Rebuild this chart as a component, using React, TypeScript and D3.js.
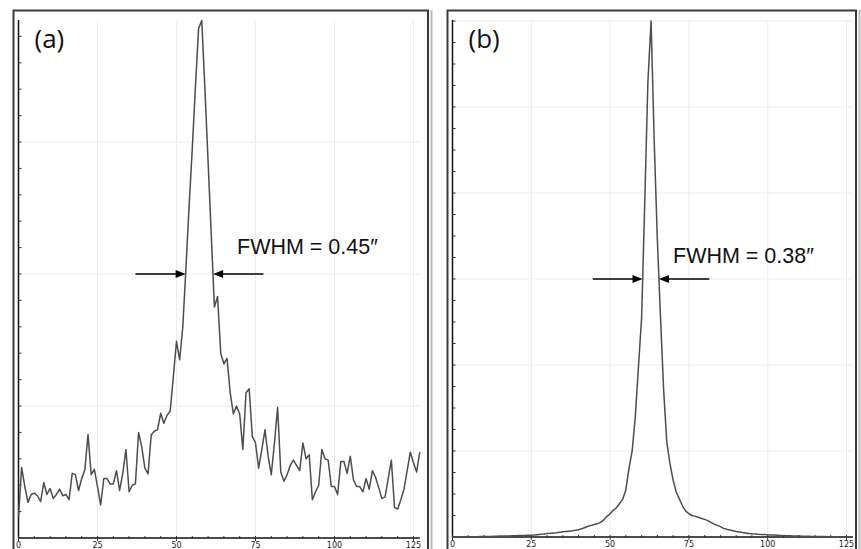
import React from "react";
import * as d3 from "d3";

// pixel index along the slit (0..127)
const pixelIndex = d3.range(0, 128);

// (a) seeing-limited profile
const profileA = [
  0.16, 0.535, 0.39, 0.27, 0.33, 0.34, 0.32, 0.275, 0.42, 0.33,
  0.375, 0.3, 0.33, 0.37, 0.32, 0.33, 0.29, 0.49, 0.48, 0.36,
  0.45, 0.515, 0.785, 0.48, 0.52, 0.39, 0.25, 0.45, 0.45, 0.41,
  0.41, 0.51, 0.36, 0.49, 0.67, 0.35, 0.4, 0.41, 0.8, 0.69,
  0.53, 0.485, 0.78, 0.81, 0.82, 0.945, 0.87, 0.93, 0.96, 1.22,
  1.49, 1.35, 1.6, 2.05, 2.52, 2.95, 3.42, 3.86, 3.92, 3.4,
  2.85, 2.3, 1.75, 1.83, 1.4, 1.32, 1.36, 1.1, 0.94, 1.0,
  0.94, 0.67, 1.1, 1.13, 0.77, 0.72, 0.53, 0.67, 0.82, 0.62,
  0.48, 0.72, 0.99, 0.5, 0.43, 0.48, 0.55, 0.59, 0.55, 0.51,
  0.72, 0.6, 0.63, 0.29, 0.35, 0.4, 0.67, 0.6, 0.59, 0.39,
  0.39, 0.33, 0.58, 0.58, 0.49, 0.62, 0.44, 0.39, 0.39, 0.35,
  0.45, 0.37, 0.51, 0.46, 0.38, 0.3, 0.31, 0.45, 0.59, 0.23,
  0.22, 0.29, 0.37, 0.51, 0.65, 0.57, 0.5, 0.65,
];

// (b) corrected profile
const profileB = [
  0, 0, 0, 0.002, 0.002, 0.003, 0.003, 0.004, 0.004, 0.005,
  0.005, 0.006, 0.007, 0.008, 0.009, 0.01, 0.011, 0.012, 0.013, 0.014,
  0.015, 0.016, 0.017, 0.018, 0.019, 0.02, 0.023, 0.027, 0.031, 0.035,
  0.04, 0.043, 0.047, 0.05, 0.055, 0.06, 0.064, 0.068, 0.072, 0.078,
  0.085, 0.095, 0.11, 0.125, 0.135, 0.145, 0.155, 0.17, 0.2, 0.24,
  0.27, 0.31, 0.34, 0.39, 0.44, 0.55, 0.8, 1.0, 1.4, 1.98,
  2.55, 3.9, 5.3, 6.0, 4.6, 3.45, 2.55, 1.7, 1.1, 0.85,
  0.66, 0.52, 0.44, 0.36, 0.3, 0.27, 0.25, 0.24, 0.23, 0.215,
  0.205, 0.19, 0.17, 0.15, 0.135, 0.12, 0.1, 0.09, 0.082, 0.073,
  0.065, 0.058, 0.052, 0.047, 0.042, 0.038, 0.035, 0.032, 0.03, 0.028,
  0.026, 0.024, 0.022, 0.02, 0.018, 0.016, 0.015, 0.014, 0.013, 0.012,
  0.011, 0.01, 0.009, 0.008, 0.007, 0.006, 0.006, 0.005, 0.005, 0.004,
  0.004, 0.003, 0.003, 0.002, 0.002, 0.001, 0.001, 0,
];

const xTickLabels = [0, 25, 50, 75, 100, 125];
const gridYA = [1, 2, 3];
const gridYB = [1, 2, 3, 4, 5, 6];
const panelLabels = ["(a)", "(b)"];
const fwhmLabels = ["FWHM = 0.45\u2033", "FWHM = 0.38\u2033"];
// [left arrow start, left tip, right tip, right arrow end] in pixel units, at level
const arrowsA = [37, 52.9, 61.6, 77.5];
const arrowsB = [44.5, 60.3, 65.5, 81.5];
const arrowLevel = [2, 3];

const W = 861;
const H = 549;

function Panel({ frame, axis, yMax, minorStep, gridY, data, label, fwhm, arrows, level, textPos }) {
  const x = d3.scaleLinear().domain([0, 127]).range([axis.left, axis.right]);
  const y = d3.scaleLinear().domain([0, yMax]).range([axis.bottom, axis.top]);
  const line = d3.line<number>().x((_, i) => x(pixelIndex[i])).y((d) => y(d));
  const minorX = d3.range(0, 128, 5);
  const minorY = d3.range(minorStep, yMax, minorStep);
  const ay = y(level);
  const head = (tipX: number, dir: number) =>
    `M${tipX},${ay} L${tipX - dir * 10},${ay - 4} L${tipX - dir * 10},${ay + 4} Z`;
  return (
    <g>
      <rect x={frame.left} y={frame.top} width={frame.right - frame.left} height={H + 20}
        fill="none" stroke="#3a3a3a" strokeWidth={2} />
      {xTickLabels.slice(1).map((t) => (
        <line key={"gx" + t} x1={x(t)} x2={x(t)} y1={axis.top} y2={axis.bottom}
          stroke="#dadada" strokeDasharray="1,1" />
      ))}
      {gridY.map((g) => (
        <line key={"gy" + g} x1={axis.left} x2={axis.right} y1={y(g)} y2={y(g)}
          stroke="#dadada" strokeDasharray="1,1" />
      ))}
      <line x1={axis.left} x2={axis.left} y1={axis.top} y2={axis.bottom} stroke="#111" strokeWidth={1.5} />
      <line x1={axis.left} x2={axis.right} y1={axis.bottom} y2={axis.bottom} stroke="#111" strokeWidth={1.5} />
      {minorY.map((t) => (
        <line key={"ty" + t} x1={axis.left} x2={axis.left + 3} y1={y(t)} y2={y(t)} stroke="#333" />
      ))}
      {minorX.map((t) => (
        <line key={"tx" + t} x1={x(t)} x2={x(t)} y1={axis.bottom - 2} y2={axis.bottom + (t % 25 === 0 ? 3 : 1)} stroke="#333" />
      ))}
      {xTickLabels.map((t) => (
        <text key={"lx" + t} x={x(t)} y={axis.bottom + 10} textAnchor="middle"
          fontFamily="'DejaVu Sans', sans-serif" fontSize={8} fill="#222">{t}</text>
      ))}
      <path d={line(data) || ""} fill="none" stroke="#4d4d4d" strokeWidth={1.5} strokeLinejoin="round" />
      <text x={frame.left + 21} y={48} fontFamily="'Open Sans', sans-serif" fontSize={26} fill="#111">{label}</text>
      <text x={textPos} y={level === 2 ? 254 : 263} fontFamily="'Liberation Sans', Arial, sans-serif" fontSize={21.5} fill="#111">{fwhm}</text>
      <line x1={x(arrows[0])} x2={x(arrows[1]) - 8} y1={ay} y2={ay} stroke="#000" strokeWidth={1.3} />
      <path d={head(x(arrows[1]), 1)} fill="#000" />
      <line x1={x(arrows[2]) + 8} x2={x(arrows[3])} y1={ay} y2={ay} stroke="#000" strokeWidth={1.3} />
      <path d={head(x(arrows[2]), -1)} fill="#000" />
    </g>
  );
}

export default function App() {
  return (
    <svg width={W} height={H} style={{ display: "block", position: "absolute", left: 0, top: 0, background: "#fff" }}>
      <rect width={W} height={H} fill="#fff" />
      <line x1={431.5} x2={431.5} y1={10} y2={H} stroke="#bbb" strokeWidth={2} />
      <line x1={859.5} x2={859.5} y1={10} y2={H} stroke="#bbb" strokeWidth={2} />
      <Panel
        frame={{ left: 13.5, right: 428, top: 10.5 }}
        axis={{ left: 18.5, right: 419.8, bottom: 538, top: 20 }}
        yMax={518 / 132}
        minorStep={0.2}
        gridY={gridYA}
        data={profileA}
        label={panelLabels[0]}
        fwhm={fwhmLabels[0]}
        arrows={arrowsA}
        level={arrowLevel[0]}
        textPos={237}
      />
      <Panel
        frame={{ left: 447.5, right: 856, top: 10.5 }}
        axis={{ left: 452.5, right: 852.8, bottom: 537, top: 20 }}
        yMax={517 / 86}
        minorStep={0.25}
        gridY={gridYB}
        data={profileB}
        label={panelLabels[1]}
        fwhm={fwhmLabels[1]}
        arrows={arrowsB}
        level={arrowLevel[1]}
        textPos={673}
      />
    </svg>
  );
}
